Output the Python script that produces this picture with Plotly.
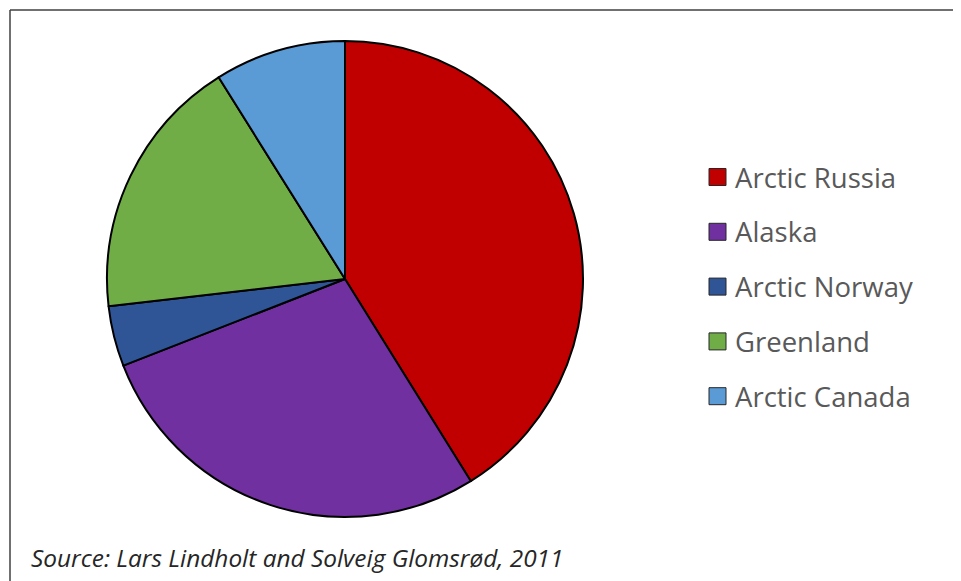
import plotly.graph_objects as go

labels = ["Arctic Russia", "Alaska", "Arctic Norway", "Greenland", "Arctic Canada"]
values = [41.1, 27.9, 4.1, 17.9, 8.9]
colors = ["#C00000", "#7030A0", "#2F5597", "#70AD47", "#5B9BD5"]
source = "Source: Lars Lindholt and Solveig Glomsrød, 2011"

OFF = 8  # page body margin
W, H = 961 - OFF, 581 - OFF


def px(x):
    return (x - OFF) / W


def py(y):
    return 1 - (y - OFF) / H


fig = go.Figure()
fig.add_trace(go.Pie(
    labels=labels, values=values, sort=False, direction="clockwise", rotation=0,
    marker=dict(colors=colors, line=dict(color="#000000", width=2)),
    textinfo="none", hoverinfo="label+percent", showlegend=False,
    domain=dict(x=[px(107), px(583)], y=[py(517), py(41)]),
))

shapes = [
    dict(type="line", xref="paper", yref="paper", x0=px(10), x1=1, y0=py(10), y1=py(10),
         line=dict(color="#404040", width=1.5)),
    dict(type="line", xref="paper", yref="paper", x0=px(10), x1=px(10), y0=0, y1=py(10),
         line=dict(color="#404040", width=1.5)),
]
annotations = []
row_y0, row_dy = 177, 54.8
for i, (lab, col) in enumerate(zip(labels, colors)):
    yc = row_y0 + i * row_dy
    shapes.append(dict(type="rect", xref="paper", yref="paper",
                       x0=px(709), x1=px(726), y0=py(yc + 8.5), y1=py(yc - 8.5),
                       fillcolor=col, line=dict(color="#262626", width=1)))
    annotations.append(dict(text=lab, xref="paper", yref="paper", x=px(733), y=py(yc),
                            xanchor="left", yanchor="middle", showarrow=False,
                            font=dict(family="Open Sans", size=27.5, color="#595959")))

annotations.append(dict(text="<i>" + source + "</i>", xref="paper", yref="paper",
                        x=px(29), y=py(557), xanchor="left", yanchor="middle", showarrow=False,
                        font=dict(family="Open Sans", size=24.4, color="#262626")))

fig.update_layout(
    width=W, height=H, margin=dict(l=0, r=0, t=0, b=0),
    paper_bgcolor="white", plot_bgcolor="white",
    shapes=shapes, annotations=annotations, showlegend=False,
)

fig.write_html("out.html")
